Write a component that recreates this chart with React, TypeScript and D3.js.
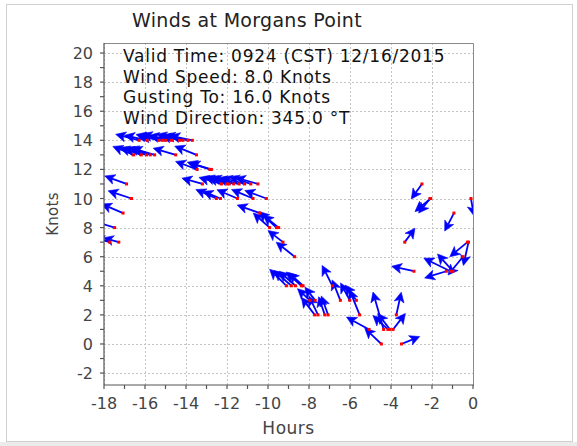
import React from 'react';
import * as d3 from 'd3';

// observation time (hours before valid time) and wind speed (knots)
const hours = [
  -17.72, -17.48, -17.28, -17.07, -16.9, -16.66, -16.55, -16.29, -16.18, -15.93,
  -15.9, -15.74, -15.53, -15.32, -15.15, -14.99, -14.71, -14.5, -14.31, -14.15,
  -13.9, -13.69, -13.49, -13.46, -13.2, -12.84, -12.76, -12.52, -12.32, -12.27,
  -12.0, -11.9, -11.67, -11.49, -11.41, -11.14, -10.84, -10.73, -10.49, -10.4,
  -10.08, -9.92, -9.59, -9.48, -9.27, -9.1, -8.86, -8.7, -8.66, -8.37,
  -8.29, -7.96, -7.72, -7.7, -7.56, -7.23, -7.07, -6.86, -6.47, -6.01,
  -5.69, -5.53, -5.07, -4.47, -4.36, -4.15, -4.05, -3.9, -3.74, -3.49,
  -3.33, -2.88, -2.49, -2.1, -2.06, -1.3, -1.1, -0.98, -0.93, -0.49,
  -0.27, -0.22, -0.1,
];
const knots = [
  7, 8, 7, 9, 11, 10, 13, 14, 13, 13,
  14, 13, 13, 14, 14, 14, 14, 13, 14, 14,
  14, 14, 13, 12, 11, 12, 12, 10, 10, 11,
  11, 11, 11, 10, 11, 11, 11, 10, 11, 9,
  10, 8, 8, 8, 7, 4, 4, 6, 4, 4,
  4, 3, 2, 3, 2, 2, 2, 4, 3, 3,
  3, 2, 1, 0, 1, 1, 1, 1, 2, 0,
  7, 5, 11, 10, 10, 5, 5, 5, 9, 6,
  7, 7, 10,
];
// wind vector components, drawn in axis units (hours, knots)
const vecX = [
  -0.75, -1.05, -0.75, -1.05, -1.06, -1.14, -1.02, -1.14, -1.05, -1.08,
  -1.1, -1.05, -1.1, -1.12, -1.1, -1.15, -1.1, -1.1, -1.12, -1.08,
  -1.12, -1.1, -1.06, -1.05, -1.0, -1.1, -1.05, -1.0, -0.85, -1.1,
  -1.1, -1.05, -1.1, -1.0, -1.08, -1.1, -1.05, -1.05, -1.1, -1.1,
  -1.05, -0.8, -0.85, -0.75, -0.73, -0.82, -0.85, -0.9, -0.8, -0.75,
  -0.7, -0.6, -0.65, -0.5, -0.45, -0.3, -0.33, -0.5, -0.4, -0.45,
  -0.55, -0.5, -1.1, -0.81, -0.52, -0.73, -0.6, 0.6, 0.24, 0.89,
  0.5, -1.09, -0.52, -0.55, -0.77, -1.06, -1.3, -0.75, -0.45, -0.73,
  -0.86, -0.25, 0.15,
];
const vecY = [
  0.3, 0.45, 0.3, 0.62, 0.55, 0.53, 0.58, 0.41, 0.5, 0.45,
  0.35, 0.52, 0.45, 0.4, 0.3, 0.45, 0.35, 0.46, 0.42, 0.3,
  0.38, 0.33, 0.6, 0.55, 0.4, 0.5, 0.45, 0.62, 0.5, 0.45,
  0.5, 0.42, 0.48, 0.6, 0.4, 0.45, 0.5, 0.62, 0.45, 0.55,
  0.55, 1.0, 1.1, 0.85, 0.8, 1.14, 1.05, 1.0, 1.0, 0.95,
  0.9, 0.8, 1.2, 0.9, 1.3, 1.25, 1.3, 1.4, 1.4, 1.2,
  1.05, 1.75, 0.85, 1.08, 2.57, 0.96, 1.1, 1.1, 1.56, 0.51,
  0.96, 0.34, -1.03, -1.0, -0.9, -0.46, 0.9, 1.19, -1.24, -1.26,
  -1.0, -1.6, -1.2,
];

const xTicks = [-18, -16, -14, -12, -10, -8, -6, -4, -2, 0];
const xMinor = [-17, -15, -13, -11, -9, -7, -5, -3, -1];
const yTicks = [-2, 0, 2, 4, 6, 8, 10, 12, 14, 16, 18, 20];
const yMinor = [-1, 1, 3, 5, 7, 9, 11, 13, 15, 17, 19];

const infoLines = [
  'Valid Time: 0924 (CST) 12/16/2015',
  'Wind Speed: 8.0 Knots',
  'Gusting To: 16.0 Knots',
  'Wind Direction: 345.0 °T',
];

const W = 577, H = 446;
const plot = { left: 104, right: 473, top: 43, bottom: 385 };
const font = '"DejaVu Sans", Verdana, sans-serif';

export default function App() {
  const x = d3.scaleLinear().domain([-18, 0]).range([plot.left, plot.right]);
  const y = d3.scaleLinear().domain([-2.82, 20.69]).range([plot.bottom, plot.top]);

  const arrows = hours.map((h, i) => {
    const x0 = x(h), y0 = y(knots[i]);
    const x1 = x(h + vecX[i]), y1 = y(knots[i] + vecY[i]);
    const len = Math.hypot(x1 - x0, y1 - y0);
    const ux = (x1 - x0) / len, uy = (y1 - y0) / len;
    const hl = 10, hw = 5;
    const bx = x1 - ux * hl, by = y1 - uy * hl;
    const nx = x1 - ux * hl * 0.75, ny = y1 - uy * hl * 0.75;
    const head = [
      [x1, y1], [bx - uy * hw, by + ux * hw], [nx, ny], [bx + uy * hw, by - ux * hw],
    ];
    return { x0, y0, x1: nx, y1: ny, head: d3.line()(head as [number, number][]) + 'Z' };
  });

  return (
    <div style={{ position: 'fixed', left: 0, top: 0 }}>
      <svg width={W} height={H} style={{ display: 'block' }}>
        <rect x={0} y={0} width={W} height={H} fill="#fff" />
        <rect x={0} y={442} width={W} height={4} fill="#ebebeb" />
        <rect x={6.5} y={4.5} width={566} height={437} fill="#fff" stroke="#d0d0d0" />

        <text x={247} y={27} textAnchor="middle" fontFamily={font} fontSize={19} letterSpacing={0.3} fill="#222">
          Winds at Morgans Point
        </text>

        <defs>
          <clipPath id="plotClip">
            <rect x={plot.left} y={plot.top} width={plot.right - plot.left} height={plot.bottom - plot.top} />
          </clipPath>
        </defs>

        {/* grid */}
        <g stroke="#c4c4c4" strokeWidth={1} strokeDasharray="2,2">
          {xTicks.map(t => (
            <line key={'gx' + t} x1={Math.round(x(t)) + 0.5} x2={Math.round(x(t)) + 0.5} y1={plot.top} y2={plot.bottom} />
          ))}
          {yTicks.map(t => (
            <line key={'gy' + t} x1={plot.left} x2={plot.right} y1={Math.round(y(t)) + 0.5} y2={Math.round(y(t)) + 0.5} />
          ))}
        </g>

        {/* plot outline top/right */}
        <path d={`M${plot.left},${plot.top + 0.5}H${plot.right + 0.5}V${plot.bottom}`} fill="none" stroke="#8a8a8a" />

        {/* info text */}
        <g fontFamily={font} fontSize={17} letterSpacing={0.75} fill="#111">
          {infoLines.map((s, i) => (
            <text key={s} x={123} y={62 + i * 20.5}>{s}</text>
          ))}
        </g>

        {/* wind vectors */}
        <g clipPath="url(#plotClip)">
          {arrows.map((a, i) => (
            <line key={'l' + i} x1={a.x0} y1={a.y0} x2={a.x1} y2={a.y1} stroke="#0000ff" strokeWidth={1.8} />
          ))}
          {arrows.map((a, i) => (
            <path key={'h' + i} d={a.head} fill="#0000ff" stroke="#0000ff" strokeWidth={0.6} />
          ))}
          {arrows.map((a, i) => (
            <rect key={'d' + i} x={a.x0 - 1.5} y={a.y0 - 1.5} width={3} height={3} fill="#ff0000" />
          ))}
        </g>

        {/* axes */}
        <g stroke="#555" strokeWidth={1.2}>
          <line x1={plot.left} x2={plot.left} y1={plot.top} y2={plot.bottom} />
          <line x1={plot.left} x2={plot.right + 1} y1={plot.bottom} y2={plot.bottom} />
          {xTicks.concat(xMinor).map(t => (
            <line key={'tx' + t} x1={x(t)} x2={x(t)} y1={plot.bottom} y2={plot.bottom + 4} />
          ))}
          {yTicks.concat(yMinor).map(t => (
            <line key={'ty' + t} x1={plot.left - 4} x2={plot.left} y1={y(t)} y2={y(t)} />
          ))}
        </g>

        <g fontFamily={font} fontSize={16} fill="#444">
          {xTicks.map(t => (
            <text key={'lx' + t} x={x(t)} y={plot.bottom + 24} textAnchor="middle">{t}</text>
          ))}
          {yTicks.map(t => (
            <text key={'ly' + t} x={93} y={y(t) + 6} textAnchor="end">{t}</text>
          ))}
        </g>

        <text x={(plot.left + plot.right) / 2} y={434} textAnchor="middle" fontFamily={font} fontSize={17} letterSpacing={0.5} fill="#444">
          Hours
        </text>
        <text
          transform={`translate(58,${(plot.top + plot.bottom) / 2}) rotate(-90)`}
          textAnchor="middle" fontFamily={font} fontSize={15} letterSpacing={0.3} fill="#444"
        >
          Knots
        </text>
      </svg>
    </div>
  );
}
